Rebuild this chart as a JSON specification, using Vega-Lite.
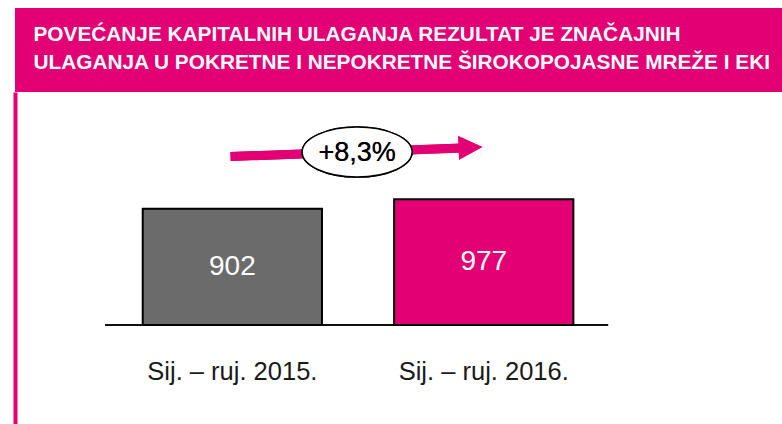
{
  "$schema": "https://vega.github.io/schema/vega-lite/v6.json",
  "background": "white",
  "padding": {"left": 15, "top": 8, "right": 0, "bottom": 0},
  "spacing": 0,
  "align": "none",
  "config": {"view": {"stroke": null}},
  "vconcat": [
    {
      "width": 767,
      "height": 84,
      "view": {"fill": "#e20074", "stroke": null},
      "data": {"values": [
        {"line": "POVEĆANJE KAPITALNIH ULAGANJA REZULTAT JE ZNAČAJNIH"},
        {"line": "ULAGANJA U POKRETNE I NEPOKRETNE ŠIROKOPOJASNE MREŽE I EKI"}
      ]},
      "mark": {"type": "point", "opacity": 0},
      "encoding": {
        "y": {
          "field": "line", "type": "nominal", "sort": null,
          "scale": {"type": "point", "padding": 1.18, "align": 0.576},
          "axis": {
            "orient": "left", "title": null, "domain": false, "ticks": false, "grid": false,
            "labelAlign": "left", "labelBaseline": "alphabetic", "labelPadding": -18, "labelLimit": 0,
            "labelFont": "Liberation Sans, Arial, sans-serif", "labelFontWeight": "bold",
            "labelFontSize": 20.8, "labelColor": "white", "labelOverlap": false
          }
        }
      }
    },
    {
      "width": 765,
      "height": 332,
      "view": {"stroke": null},
      "data": {"values": [
        {"period": "Sij. – ruj. 2015.", "value": 902},
        {"period": "Sij. – ruj. 2016.", "value": 977}
      ]},
      "encoding": {
        "x": {
          "field": "period", "type": "nominal", "sort": null,
          "scale": {"paddingInner": 0.287, "paddingOuter": 0.665, "align": 0.382},
          "axis": {
            "title": null, "offset": -99, "ticks": false, "domain": false, "labelAngle": 0,
            "labelFont": "Liberation Sans, Arial, sans-serif", "labelLimit": 0,
            "labelFontSize": 25.5, "labelColor": "#1a1a1a", "labelPadding": 34
          }
        }
      },
      "layer": [
        {
          "mark": {"type": "rule", "color": "#000000", "strokeWidth": 1.5},
          "encoding": {
            "x": {"datum": "Sij. – ruj. 2015.", "bandPosition": -0.21},
            "x2": {"datum": "Sij. – ruj. 2016.", "bandPosition": 1.194},
            "y": {"datum": 0, "type": "quantitative"}
          }
        },
        {
          "mark": {"type": "bar", "stroke": "#000000", "strokeWidth": 2},
          "encoding": {
            "y": {
              "field": "value", "type": "quantitative",
              "scale": {"domain": [-768.7, 1809.2], "nice": false},
              "axis": {"domainColor": "#e20074", "domainWidth": 4, "ticks": false, "labels": false, "grid": false, "title": null}
            },
            "y2": {"datum": 0},
            "color": {"field": "period", "type": "nominal", "sort": null, "scale": {"range": ["#6b6b6b", "#e20074"]}, "legend": null}
          }
        },
        {
          "transform": [{"calculate": "datum.value / 2", "as": "mid"}],
          "mark": {"type": "text", "color": "white", "font": "Liberation Sans, Arial, sans-serif", "fontSize": 28, "baseline": "middle"},
          "encoding": {
            "y": {"field": "mid", "type": "quantitative"},
            "text": {"field": "value", "type": "quantitative"}
          }
        },
        {
          "mark": {"type": "rule", "color": "#e20074", "strokeWidth": 9},
          "encoding": {
            "x": {"datum": "Sij. – ruj. 2015.", "bandPosition": 0.49},
            "x2": {"datum": "Sij. – ruj. 2016.", "bandPosition": 0.38},
            "y": {"datum": 1308},
            "y2": {"datum": 1374}
          }
        },
        {
          "mark": {"type": "point", "shape": "M -1 -1 L 1 0 L -1 1 Z", "filled": true, "color": "#e20074", "opacity": 1, "size": 560, "angle": -2},
          "encoding": {
            "x": {"datum": "Sij. – ruj. 2016.", "bandPosition": 0.426},
            "y": {"datum": 1378}
          }
        },
        {
          "mark": {"type": "point", "shape": "M -1 0 A 1 0.4545 0 1 0 1 0 A 1 0.4545 0 1 0 -1 0 Z", "filled": true, "fill": "white", "stroke": "black", "strokeWidth": 1.5, "opacity": 1, "size": 12100},
          "encoding": {
            "x": {"datum": "Sij. – ruj. 2015.", "bandPosition": 1.196},
            "y": {"datum": 1343}
          }
        },
        {
          "mark": {"type": "text", "color": "black", "font": "Liberation Sans, Arial, sans-serif", "fontSize": 27, "baseline": "middle"},
          "encoding": {
            "x": {"datum": "Sij. – ruj. 2015.", "bandPosition": 1.196},
            "y": {"datum": 1335},
            "text": {"value": "+8,3%"}
          }
        }
      ]
    }
  ]
}
